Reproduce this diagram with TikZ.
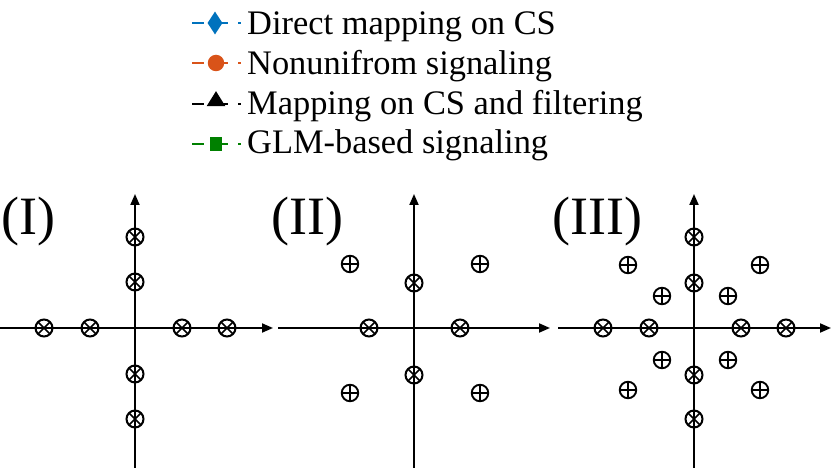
\documentclass[tikz,border=0pt]{standalone}
\usepackage{fontspec}
\setmainfont{Liberation Serif}
\usetikzlibrary{shapes.geometric,arrows.meta}
\definecolor{mblue}{RGB}{0,114,189}
\definecolor{morange}{RGB}{217,83,25}
\definecolor{mgreen}{RGB}{0,128,0}
\begin{document}
\begin{tikzpicture}[x=1pt,y=-1pt,
  axis/.style={line width=2pt,-{Triangle[length=11pt,width=9pt]}},
  otm/.style={circle,draw,line width=2pt,minimum size=17pt,inner sep=0pt,
    path picture={\draw[line width=1.6pt] (path picture bounding box.north west) -- (path picture bounding box.south east)
      (path picture bounding box.north east) -- (path picture bounding box.south west);}},
  opl/.style={circle,draw,line width=1.9pt,minimum size=16.5pt,inner sep=0pt,
    path picture={\draw[line width=1.7pt] (path picture bounding box.north) -- (path picture bounding box.south)
      (path picture bounding box.east) -- (path picture bounding box.west);}},
  lbl/.style={anchor=base west,inner sep=0pt,font=\fontsize{54}{60}\selectfont},
  legtxt/.style={anchor=base west,inner sep=0pt,font=\fontsize{34.4}{38}\selectfont},
  legln/.style={line width=2.7pt}
]
\useasboundingbox (0,0) rectangle (831,468);

% ---------- legend ----------
\foreach \i/\c/\y in {1/mblue/23,2/morange/63,3/black/104,4/mgreen/144}{
  \coordinate (la\i) at (192,\y);
  \coordinate (lb\i) at (228,\y);
  \coordinate (lc\i) at (238,\y);
  \coordinate (ld\i) at (240.5,\y);
  \draw[legln,\c] (la\i) -- (204,\y);
  \draw[legln,\c] (212,\y) -- (lb\i);
  \draw[legln,\c] (lc\i) -- (ld\i);
}
\node[diamond,fill=mblue,inner sep=0pt,minimum width=15pt,minimum height=23pt] (m1) at (215,23) {};
\node[circle,fill=morange,inner sep=0pt,minimum size=16.5pt] (m2) at (216,63) {};
\node[isosceles triangle,isosceles triangle apex angle=64,shape border rotate=90,fill=black,inner sep=0pt,minimum width=18pt,minimum height=15pt] (m3) at (216,101) {};
\node[rectangle,fill=mgreen,inner sep=0pt,minimum width=12.5pt,minimum height=13.5pt] (m4) at (216,144) {};
\node[legtxt] (t1) at (247,35) {Direct mapping on CS};
\node[legtxt] (t2) at (247,75) {Nonunifrom signaling};
\node[legtxt] (t3) at (247,115) {Mapping on CS and filtering};
\node[legtxt] (t4) at (247,154) {GLM-based signaling};

% ---------- panel I ----------
\node[lbl] (L1) at (1,235) {(I)};
\coordinate (h1l) at (0,328);
\coordinate (h1r) at (273,328);
\coordinate (v1b) at (135,468);
\coordinate (v1t) at (135,194);
\draw[axis] (h1l) -- (h1r);
\draw[axis] (v1b) -- (v1t);
\foreach \n/\x/\y in {a/44/328,b/90/328,c/182/328,d/227/328,e/135/237,f/135/282,g/135/374,h/135/419}{
  \node[otm] (p1\n) at (\x,\y) {};
}

% ---------- panel II ----------
\node[lbl] (L2) at (271,235) {(II)};
\coordinate (h2l) at (278,328);
\coordinate (h2r) at (550,328);
\coordinate (v2b) at (414,468);
\coordinate (v2t) at (414,194);
\draw[axis] (h2l) -- (h2r);
\draw[axis] (v2b) -- (v2t);
\foreach \n/\x/\y in {a/369/328,b/460/328,c/414/283,d/414/375}{
  \node[otm] (p2\n) at (\x,\y) {};
}
\foreach \n/\x/\y in {a/350/264,b/480/264,c/350/393,d/480/393}{
  \node[opl] (q2\n) at (\x,\y) {};
}

% ---------- panel III ----------
\node[lbl] (L3) at (552,235) {(III)};
\coordinate (h3l) at (558,328);
\coordinate (h3r) at (831,328);
\coordinate (v3b) at (694,468);
\coordinate (v3t) at (694,194);
\draw[axis] (h3l) -- (h3r);
\draw[axis] (v3b) -- (v3t);
\foreach \n/\x/\y in {a/603/328,b/649/328,c/741/328,d/786/328,e/694/237,f/694/283,g/694/375,h/694/419}{
  \node[otm] (p3\n) at (\x,\y) {};
}
\foreach \n/\x/\y in {a/628/265,b/760/265,c/628/390,d/760/390,e/662/296,f/728/296,g/662/360,h/728/360}{
  \node[opl] (q3\n) at (\x,\y) {};
}
\end{tikzpicture}
\end{document}
